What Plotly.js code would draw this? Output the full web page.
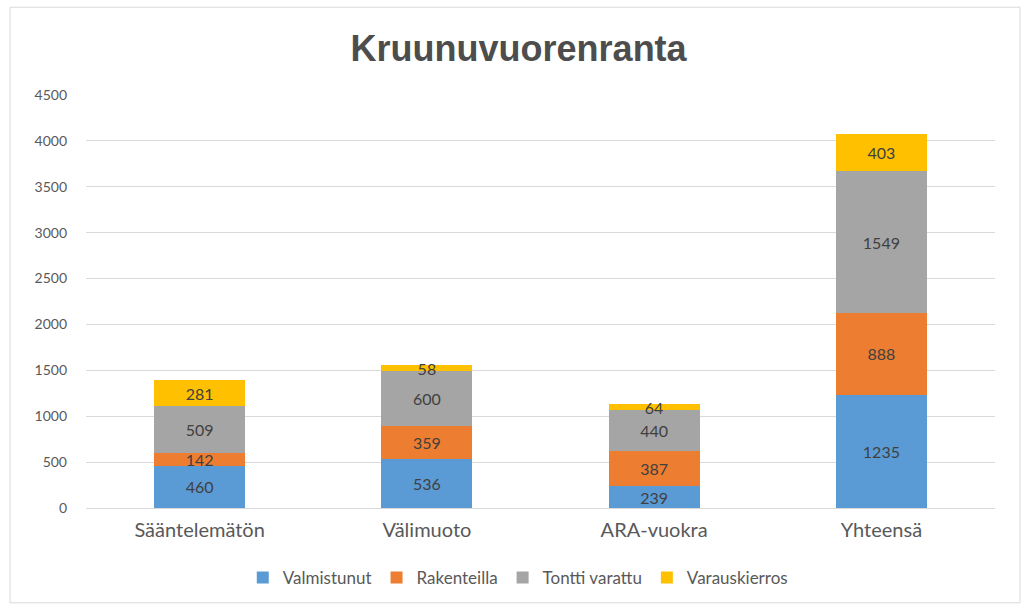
<!DOCTYPE html>
<html>
<head>
<meta charset="utf-8">
<script src="https://cdn.plot.ly/plotly-3.0.1.min.js"></script>
<style>
  body { margin: 0; background: #fff; }
  #chart { width: 1027px; height: 607px; }
</style>
</head>
<body>
<div id="chart"></div>
<script>
const categories = ["Sääntelemätön", "Välimuoto", "ARA-vuokra", "Yhteensä"];
const valmistunut = [460, 536, 239, 1235];
const rakenteilla = [142, 359, 387, 888];
const tonttiVarattu = [509, 600, 440, 1549];
const varauskierros = [281, 58, 64, 403];

const seriesNames = ["Valmistunut", "Rakenteilla", "Tontti varattu", "Varauskierros"];
const seriesValues = [valmistunut, rakenteilla, tonttiVarattu, varauskierros];
const seriesColors = ["#5B9BD5", "#ED7D31", "#A5A5A5", "#FFC000"];

const traces = [];
for (let i = 0; i < seriesNames.length; i++) {
    traces.push({
        type: 'bar',
        name: seriesNames[i],
        x: categories,
        y: seriesValues[i],
        marker: { color: seriesColors[i] },
        text: seriesValues[i].map(String),
        textposition: 'inside',
        insidetextanchor: 'middle',
        textangle: 0,
        constraintext: 'none',
        textfont: { family: 'Lato, "Liberation Sans", sans-serif', size: 16, color: '#404040' },
        hoverinfo: 'x+y+name'
    });
}

// light frame round the chart, like the spreadsheet chart border
const px = (v) => (v - 86) / 909;
const py = (v) => (509 - v) / 414;

Plotly.newPlot("chart", traces, {
    width: 1027,
    height: 607,
    barmode: 'stack',
    bargap: 0.6,
    margin: { l: 86, r: 32, t: 95, b: 98 },
    paper_bgcolor: '#ffffff',
    plot_bgcolor: '#ffffff',
    font: { family: 'Lato, "Liberation Sans", sans-serif', color: '#595959' },
    title: {
        text: '<b>Kruunuvuorenranta</b>',
        font: { family: '"Liberation Sans", Arial, sans-serif', size: 36, color: '#4d4d4d' },
        x: 0.505,
        xanchor: 'center',
        y: 1 - 48 / 607,
        yref: 'container',
        yanchor: 'middle'
    },
    xaxis: {
        tickfont: { size: 20, color: '#595959' },
        ticklabelstandoff: 8,
        showline: false,
        showgrid: false
    },
    yaxis: {
        range: [0, 4500],
        dtick: 500,
        tickfont: { size: 14, color: '#595959' },
        ticklabelstandoff: 18,
        gridcolor: '#d9d9d9',
        zerolinecolor: '#d9d9d9',
        showline: false
    },
    legend: {
        orientation: 'h',
        x: 0.475,
        xanchor: 'center',
        y: py(578),
        yanchor: 'middle',
        font: { size: 17, color: '#595959' },
        traceorder: 'normal',
        itemwidth: 30
    },
    shapes: [{
        type: 'rect',
        xref: 'paper', yref: 'paper',
        x0: px(10), x1: px(1020),
        y0: py(604), y1: py(7),
        line: { color: '#d9d9d9', width: 1 },
        fillcolor: 'rgba(0,0,0,0)',
        layer: 'below'
    }],
    showlegend: true
}, { displayModeBar: false });
</script>
</body>
</html>
